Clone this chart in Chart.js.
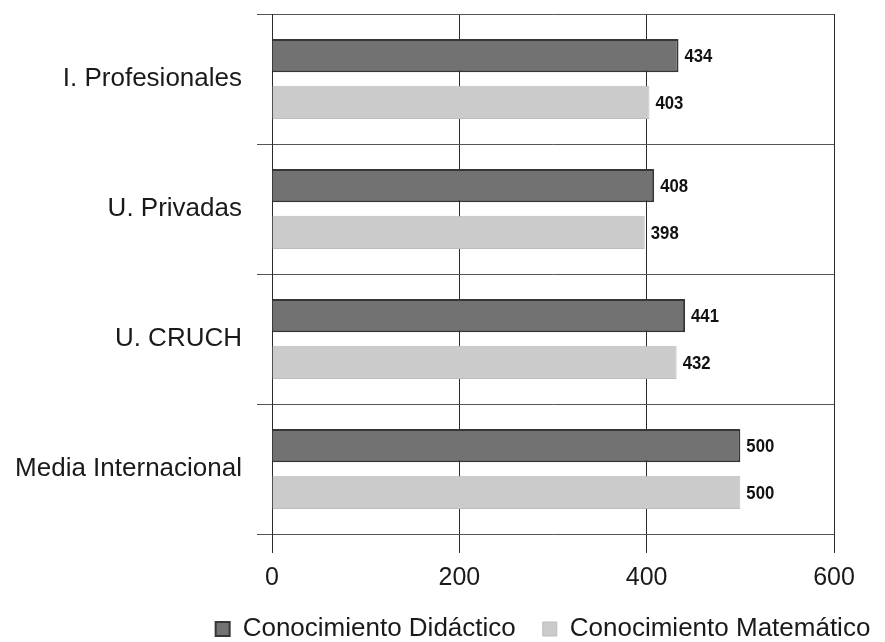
<!DOCTYPE html>
<html>
<head>
<meta charset="utf-8">
<script src="https://cdn.jsdelivr.net/npm/chart.js@4.4.0/dist/chart.umd.min.js"></script>
<style>
  html, body { margin: 0; padding: 0; background: #fff; }
  #wrap { width: 885px; height: 642px; }
</style>
</head>
<body>
<div id="wrap"><canvas id="grafico" width="885" height="642"></canvas></div>
<script>
const categorias = ['I. Profesionales', 'U. Privadas', 'U. CRUCH', 'Media Internacional'];
const didactico = [434, 408, 441, 500];
const matematico = [403, 398, 432, 500];
const ticksX = [0, 200, 400, 600];

const fuente = 'Liberation Sans, Arial, sans-serif';

// valor al final de cada barra, en letra algo estrecha
const etiquetas = {
    id: 'etiquetas',
    afterDatasetsDraw(chart) {
        const c = chart.ctx;
        c.save();
        c.fillStyle = '#111';
        c.font = 'bold 19px ' + fuente;
        c.textBaseline = 'middle';
        chart.data.datasets.forEach((ds, i) => {
            chart.getDatasetMeta(i).data.forEach((bar, j) => {
                c.save();
                c.translate(bar.x + 6, bar.y + 1);
                c.scale(0.88, 1);
                c.fillText(ds.data[j], 0, 0);
                c.restore();
            });
        });
        c.restore();
    }
};

// la leyenda del original no está centrada: se corre a la derecha y abajo
const moverLeyenda = {
    id: 'moverLeyenda',
    beforeDraw(chart) {
        const lg = chart.legend;
        if (lg) {
            lg.left += 126;
            lg.right += 126;
            lg.top = 589;
            lg.bottom = 642;
        }
    }
};

new Chart(document.getElementById('grafico'), {
    type: 'bar',
    data: {
        labels: categorias,
        datasets: [{
            label: 'Conocimiento Didáctico',
            data: didactico,
            backgroundColor: '#727272',
            borderColor: '#363636',
            borderWidth: 2,
            categoryPercentage: 0.72,
            barPercentage: 0.71
        }, {
            label: 'Conocimiento Matemático',
            data: matematico,
            backgroundColor: '#cbcbcb',
            borderColor: '#bdbdbd',
            borderWidth: 1,
            categoryPercentage: 0.72,
            barPercentage: 0.71
        }]
    },
    options: {
        indexAxis: 'y',
        responsive: false,
        animation: false,
        layout: { padding: { top: 14, right: 51, left: 0, bottom: 0 } },
        plugins: {
            legend: {
                position: 'bottom',
                maxHeight: 45,
                labels: {
                    font: { family: fuente, size: 26 },
                    color: '#1a1a1a',
                    boxWidth: 14,
                    boxHeight: 14,
                    padding: 27
                }
            },
            tooltip: { enabled: false }
        },
        scales: {
            x: {
                min: 0,
                max: 600,
                afterBuildTicks: (s) => { s.ticks = ticksX.map(v => ({ value: v })); },
                afterFit: (s) => { s.height = 63; },
                grid: { color: '#2a2a2a', lineWidth: 1, tickLength: 19 },
                border: { display: false },
                ticks: {
                    font: { family: fuente, size: 25 },
                    color: '#1a1a1a',
                    padding: 10
                }
            },
            y: {
                afterFit: (s) => { s.width = 272; s.paddingTop = 0; s.paddingBottom = 0; },
                grid: { color: '#555', lineWidth: 1, tickLength: 15, offset: true },
                border: { display: true, color: '#2a2a2a', width: 1 },
                ticks: {
                    font: { family: fuente, size: 26 },
                    color: '#1a1a1a',
                    padding: 15
                }
            }
        }
    },
    plugins: [etiquetas, moverLeyenda]
});
</script>
</body>
</html>
